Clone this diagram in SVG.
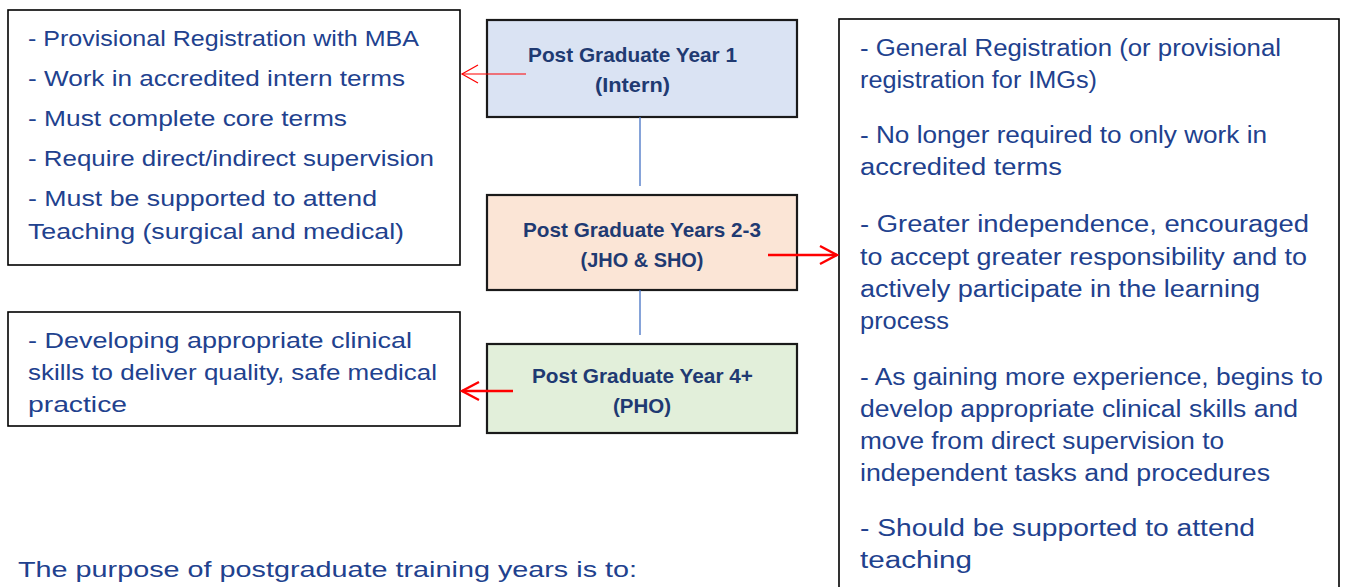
<svg xmlns="http://www.w3.org/2000/svg" width="1356" height="587" viewBox="0 0 1356 587">
  <style>
    .frame { fill: #ffffff; stroke: #000000; stroke-width: 1.6; }
    .stage { stroke: #1a1a1a; stroke-width: 2.2; }
    .note { font-family: "Liberation Sans", Arial, sans-serif; font-size: 22px; fill: #21418e; }
    .note-r { font-family: "Liberation Sans", Arial, sans-serif; font-size: 23.5px; fill: #21418e; }
    .title { font-family: "Liberation Sans", Arial, sans-serif; font-size: 21px; font-weight: bold; fill: #1f3a72; text-anchor: middle; }
    .link { stroke: #4472c4; stroke-width: 1.3; fill: none; }
    .arrow-thin { stroke: #ff0000; stroke-width: 1.2; fill: none; }
    .arrow-bold { stroke: #ff0000; stroke-width: 2.4; fill: none; }
  </style>
  <defs>
    <marker id="head-thin" markerUnits="userSpaceOnUse" viewBox="-20 -12 22 24" markerWidth="22" markerHeight="24" refX="0" refY="0" orient="auto">
      <path d="M-16,-9 L0,0 L-16,9" fill="none" stroke="#ff0000" stroke-width="1.2"/>
    </marker>
    <marker id="head-bold" markerUnits="userSpaceOnUse" viewBox="-22 -13 25 26" markerWidth="25" markerHeight="26" refX="0" refY="0" orient="auto">
      <path d="M-17,-9 L0,0 L-17,9" fill="none" stroke="#ff0000" stroke-width="2.4"/>
    </marker>
  </defs>

  <rect width="1356" height="587" fill="#ffffff"/>

  <!-- PGY1 requirements -->
  <g id="intern-notes">
    <rect class="frame" x="8" y="10" width="452" height="255"/>
    <text class="note" x="28" y="46" textLength="391" lengthAdjust="spacingAndGlyphs">- Provisional Registration with MBA</text>
    <text class="note" x="28" y="86" textLength="377" lengthAdjust="spacingAndGlyphs">- Work in accredited intern terms</text>
    <text class="note" x="28" y="126" textLength="319" lengthAdjust="spacingAndGlyphs">- Must complete core terms</text>
    <text class="note" x="28" y="166" textLength="406" lengthAdjust="spacingAndGlyphs">- Require direct/indirect supervision</text>
    <text class="note" x="28" y="206" textLength="349" lengthAdjust="spacingAndGlyphs">- Must be supported to attend</text>
    <text class="note" x="28" y="239" textLength="376" lengthAdjust="spacingAndGlyphs">Teaching (surgical and medical)</text>
  </g>

  <!-- PGY4+ focus -->
  <g id="pho-notes">
    <rect class="frame" x="8" y="312" width="452" height="114"/>
    <text class="note" x="28" y="348" textLength="384" lengthAdjust="spacingAndGlyphs">- Developing appropriate clinical</text>
    <text class="note" x="28" y="380" textLength="409" lengthAdjust="spacingAndGlyphs">skills to deliver quality, safe medical</text>
    <text class="note" x="28" y="412" textLength="99" lengthAdjust="spacingAndGlyphs">practice</text>
  </g>

  <!-- Training stages -->
  <g id="pgy1">
    <rect class="stage" x="487" y="20" width="310" height="97" fill="#dae3f3"/>
    <text class="title" x="632.5" y="62" textLength="209" lengthAdjust="spacingAndGlyphs">Post Graduate Year 1</text>
    <text class="title" x="632.5" y="92" textLength="75" lengthAdjust="spacingAndGlyphs">(Intern)</text>
  </g>
  <g id="pgy2-3">
    <rect class="stage" x="487" y="195" width="310" height="95" fill="#fbe5d6"/>
    <text class="title" x="642" y="237" textLength="238" lengthAdjust="spacingAndGlyphs">Post Graduate Years 2-3</text>
    <text class="title" x="642" y="267" textLength="123" lengthAdjust="spacingAndGlyphs">(JHO &amp; SHO)</text>
  </g>
  <g id="pgy4">
    <rect class="stage" x="487" y="344" width="310" height="89" fill="#e2efda"/>
    <text class="title" x="642.5" y="383" textLength="221" lengthAdjust="spacingAndGlyphs">Post Graduate Year 4+</text>
    <text class="title" x="642" y="413" textLength="58" lengthAdjust="spacingAndGlyphs">(PHO)</text>
  </g>

  <!-- JHO/SHO description -->
  <g id="jho-sho-notes">
    <rect class="frame" x="839" y="19" width="500" height="590" stroke-width="2"/>
    <text class="note-r" x="860" y="56" textLength="421" lengthAdjust="spacingAndGlyphs">- General Registration (or provisional</text>
    <text class="note-r" x="860" y="88" textLength="237" lengthAdjust="spacingAndGlyphs">registration for IMGs)</text>
    <text class="note-r" x="860" y="143" textLength="407" lengthAdjust="spacingAndGlyphs">- No longer required to only work in</text>
    <text class="note-r" x="860" y="175" textLength="202" lengthAdjust="spacingAndGlyphs">accredited terms</text>
    <text class="note-r" x="860" y="232" textLength="449" lengthAdjust="spacingAndGlyphs">- Greater independence, encouraged</text>
    <text class="note-r" x="860" y="265" textLength="447" lengthAdjust="spacingAndGlyphs">to accept greater responsibility and to</text>
    <text class="note-r" x="860" y="297" textLength="400" lengthAdjust="spacingAndGlyphs">actively participate in the learning</text>
    <text class="note-r" x="860" y="329" textLength="89" lengthAdjust="spacingAndGlyphs">process</text>
    <text class="note-r" x="860" y="385" textLength="463" lengthAdjust="spacingAndGlyphs">- As gaining more experience, begins to</text>
    <text class="note-r" x="860" y="417" textLength="438" lengthAdjust="spacingAndGlyphs">develop appropriate clinical skills and</text>
    <text class="note-r" x="860" y="449" textLength="364" lengthAdjust="spacingAndGlyphs">move from direct supervision to</text>
    <text class="note-r" x="860" y="481" textLength="410" lengthAdjust="spacingAndGlyphs">independent tasks and procedures</text>
    <text class="note-r" x="860" y="536" textLength="395" lengthAdjust="spacingAndGlyphs">- Should be supported to attend</text>
    <text class="note-r" x="860" y="568" textLength="112" lengthAdjust="spacingAndGlyphs">teaching</text>
  </g>

  <!-- Footer caption -->
  <g id="purpose">
    <text class="note" x="18" y="577" font-size="25px" textLength="619" lengthAdjust="spacingAndGlyphs">The purpose of postgraduate training years is to:</text>
  </g>

  <!-- Connectors -->
  <g id="connectors">
    <line class="link" x1="640" y1="117" x2="640" y2="186"/>
    <line class="link" x1="640" y1="290" x2="640" y2="335"/>
    <line class="arrow-thin" x1="526" y1="74" x2="462" y2="74" marker-end="url(#head-thin)"/>
    <line class="arrow-bold" x1="768" y1="255" x2="837" y2="255" marker-end="url(#head-bold)"/>
    <line class="arrow-bold" x1="513" y1="391" x2="462" y2="391" marker-end="url(#head-bold)"/>
  </g>
</svg>
